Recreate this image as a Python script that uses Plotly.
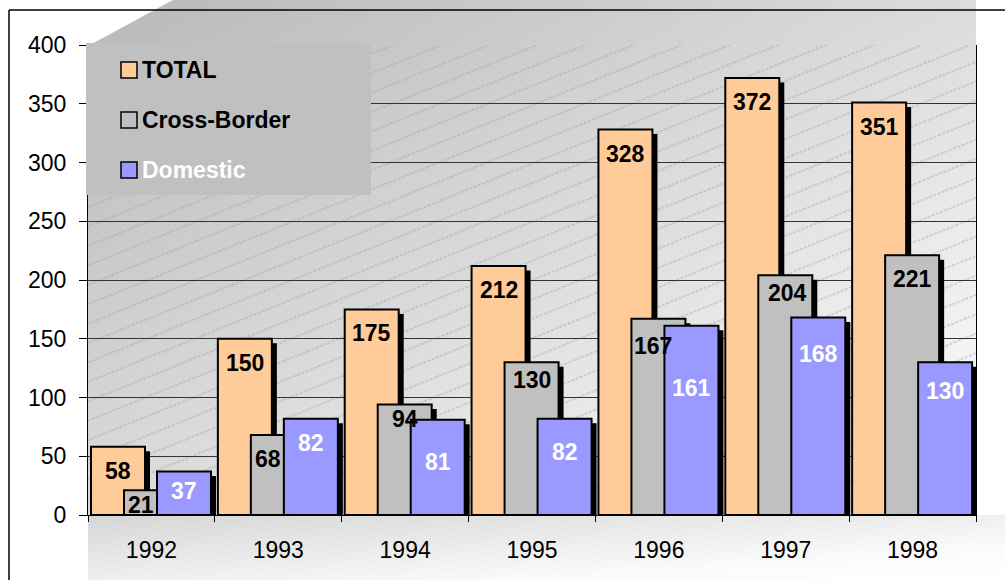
import base64
import plotly.graph_objects as go

# ---- data -------------------------------------------------------------
years = ["1992", "1993", "1994", "1995", "1996", "1997", "1998"]
total = [58, 150, 175, 212, 328, 372, 351]
cross_border = [21, 68, 94, 130, 167, 204, 221]
domestic = [37, 82, 81, 82, 161, 168, 130]
y_ticks = [0, 50, 100, 150, 200, 250, 300, 350, 400]

# ---- geometry of the canvas -------------------------------------------
W, H = 1005, 580
PL, PR, PT, PB = 88, 976, 45, 515          # plot-area box in pixels
UNIT_PX = (PR - PL) / len(years)           # pixels per category
Y_PX = (PB - PT) / 400.0                   # pixels per value unit
FONT = "Liberation Sans, Arial, sans-serif"

BAR_W = 54 / UNIT_PX
series = [
    # name, values, fill, left edge within the category (px), label colour
    ("TOTAL", total, "#FFCC99", 3, "black"),
    ("Cross-Border", cross_border, "#C0C0C0", 36, "black"),
    ("Domestic", domestic, "#9999FF", 69, "white"),
]
SHADOW_DX = 5 / UNIT_PX
SHADOW_DY = 4.5 / Y_PX
LABEL_DROP = 24   # px from bar top to label centre

# hand placement of a few value labels (px: right, down)
label_nudge = {
    ("Cross-Border", "1992"): (-10, -9),
    ("Cross-Border", "1993"): (-10, 0),
    ("Cross-Border", "1994"): (0, -10),
    ("Cross-Border", "1995"): (0, -6),
    ("Cross-Border", "1996"): (-5, 3),
    ("Cross-Border", "1997"): (2, -6),
    ("Domestic", "1992"): (0, -5),
    ("Domestic", "1994"): (0, 18),
    ("Domestic", "1995"): (0, 9),
    ("Domestic", "1996"): (0, 38),
    ("Domestic", "1997"): (0, 12),
    ("Domestic", "1998"): (0, 5),
}


def px_x(px):
    return (px - PL) / (PR - PL)


def px_y(py):
    return (PB - py) / (PB - PT)


# ---- background: shaded back wall with hatching, and the floor ---------
svg = f"""<svg xmlns="http://www.w3.org/2000/svg" width="{W}" height="{H}" viewBox="0 0 {W} {H}">
<defs>
 <linearGradient id="wall" x1="0" y1="0" x2="1" y2="1">
  <stop offset="0" stop-color="#b8b8b8"/>
  <stop offset="1" stop-color="#ffffff"/>
 </linearGradient>
 <linearGradient id="floor" x1="0" y1="0" x2="1" y2="1">
  <stop offset="0" stop-color="#d6d6d6"/>
  <stop offset="0.75" stop-color="#fbfbfb"/>
  <stop offset="1" stop-color="#ffffff"/>
 </linearGradient>
 <pattern id="hatch" patternUnits="userSpaceOnUse" width="45" height="18" patternTransform="rotate(-22)">
  <line x1="0" y1="9" x2="45" y2="9" stroke="#a0a0a0" stroke-width="0.8" stroke-dasharray="3 1.5"/>
 </pattern>
</defs>
<polygon points="{PL},{PT + 1} 173,0 {PR},0 {PR},{PB} {PL},{PB}" fill="url(#wall)"/>
<rect x="{PL}" y="{PT}" width="{PR - PL}" height="{PB - PT}" fill="url(#hatch)"/>
<rect x="{PL}" y="{PB}" width="{W - PL}" height="{H - PB}" fill="url(#floor)"/>
</svg>"""
bg_src = "data:image/svg+xml;base64," + base64.b64encode(svg.encode()).decode()

fig = go.Figure()

# ---- bars with drop shadows --------------------------------------------
for name, vals, color, left_px, _ in series:
    off = (left_px - UNIT_PX / 2) / UNIT_PX
    fig.add_trace(go.Bar(
        x=years, y=[v - SHADOW_DY for v in vals],
        width=BAR_W, offset=off + SHADOW_DX,
        marker=dict(color="black", line=dict(width=0)),
        hoverinfo="skip", showlegend=False,
    ))
    fig.add_trace(go.Bar(
        x=years, y=vals, name=name,
        width=BAR_W, offset=off,
        marker=dict(color=color, line=dict(color="black", width=2)),
        showlegend=False,
    ))

# ---- value labels ------------------------------------------------------
annotations = []
for name, vals, color, left_px, txt_color in series:
    off = (left_px - UNIT_PX / 2) / UNIT_PX
    for i, (yr, v) in enumerate(zip(years, vals)):
        dx, dy = label_nudge.get((name, yr), (0, 0))
        annotations.append(dict(
            x=i + off + BAR_W / 2, y=v, xref="x", yref="y",
            text=f"<b>{v}</b>", showarrow=False,
            xanchor="center", yanchor="middle",
            xshift=dx, yshift=-(LABEL_DROP + dy),
            font=dict(family=FONT, size=23, color=txt_color),
        ))

# ---- legend box --------------------------------------------------------
shapes = [
    dict(type="rect", xref="paper", yref="paper", layer="above",
         x0=px_x(86), x1=px_x(371), y0=px_y(195), y1=px_y(43),
         fillcolor="#C0C0C0", line=dict(width=0)),
]
for k, (name, vals, color, left_px, txt_color) in enumerate(series):
    cy = 70 + 50 * k
    shapes.append(dict(
        type="rect", xref="paper", yref="paper", layer="above",
        x0=px_x(121), x1=px_x(137), y0=px_y(cy + 8), y1=px_y(cy - 8),
        fillcolor=color, line=dict(color="black", width=1.5)))
    annotations.append(dict(
        x=px_x(140), y=px_y(cy), xref="paper", yref="paper",
        text=f"<b>{name}</b>", showarrow=False,
        xanchor="left", yanchor="middle",
        font=dict(family=FONT, size=23, color=txt_color if name == "Domestic" else "black"),
    ))

# ---- outer frame -------------------------------------------------------
shapes += [
    dict(type="line", xref="paper", yref="paper", layer="above",
         x0=px_x(9), x1=px_x(W + 5), y0=px_y(10), y1=px_y(10),
         line=dict(color="black", width=1.5)),
    dict(type="line", xref="paper", yref="paper", layer="above",
         x0=px_x(9), x1=px_x(9), y0=px_y(10), y1=px_y(H + 5),
         line=dict(color="black", width=1.5)),
]

fig.update_layout(
    width=W, height=H,
    margin=dict(l=PL, r=W - PR, t=PT, b=H - PB, pad=0),
    paper_bgcolor="white", plot_bgcolor="rgba(0,0,0,0)",
    barmode="overlay", showlegend=False,
    font=dict(family=FONT, color="black"),
    images=[dict(
        source=bg_src, xref="paper", yref="paper",
        x=px_x(0), y=px_y(0), sizex=W / (PR - PL), sizey=H / (PB - PT),
        xanchor="left", yanchor="top", sizing="stretch", layer="below",
    )],
    shapes=shapes,
    annotations=annotations,
    xaxis=dict(
        type="category", range=[-0.5, len(years) - 0.5],
        tickson="boundaries", ticks="outside", ticklen=6, tickcolor="black",
        showline=True, linecolor="black", linewidth=1,
        showgrid=False, tickfont=dict(family=FONT, size=23, color="black"),
        ticklabelstandoff=14,
    ),
    yaxis=dict(
        range=[0, 400], tickvals=y_ticks,
        ticks="outside", ticklen=8, tickcolor="black",
        showline=True, linecolor="black", linewidth=1, mirror=True,
        showgrid=True, gridcolor="#333333", gridwidth=1, zeroline=False,
        tickfont=dict(family=FONT, size=23, color="black"),
        ticklabelstandoff=8,
    ),
)

fig.write_html("out.html")
